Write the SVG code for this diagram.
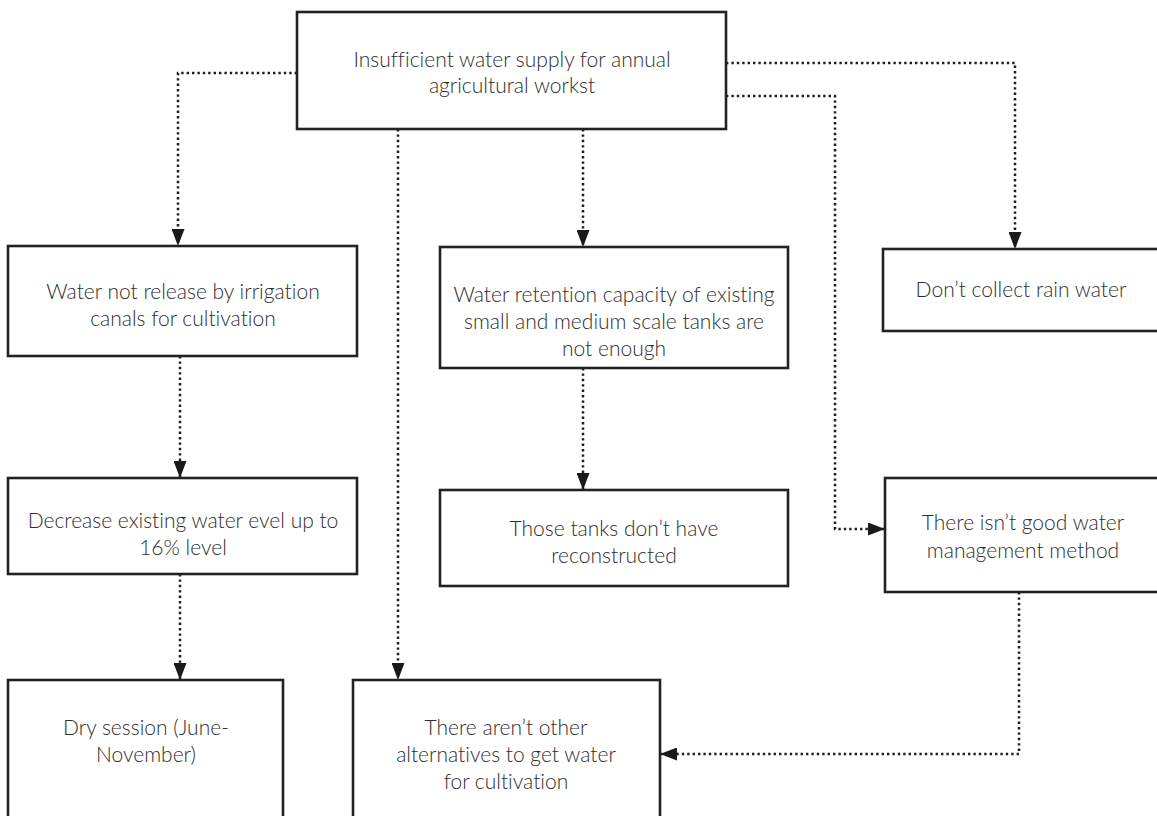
<svg xmlns="http://www.w3.org/2000/svg" width="1157" height="816" viewBox="0 0 1157 816">
<style>
.box{fill:#fff;stroke:#222;stroke-width:2.6}
.t{font-family:Lato,"Open Sans","Liberation Sans",sans-serif;font-weight:300;font-size:21px;fill:#2e2e2e;text-anchor:middle;font-variant-ligatures:no-common-ligatures}
.c{fill:none;stroke:#1e1e1e;stroke-width:2.5;stroke-dasharray:2.4 3;marker-end:url(#ah)}
</style>
<defs>
<marker id="ah" markerUnits="userSpaceOnUse" viewBox="0 0 17 13" markerWidth="17" markerHeight="13" refX="17" refY="6.5" orient="auto">
<path d="M0,0 L17,6.5 L0,13 z" fill="#1a1a1a"/>
</marker>
</defs>
<rect width="1157" height="816" fill="#fff"/>
<g id="connectors">
<path class="c" d="M297,73 H178 V246"/>
<path class="c" d="M180,356 V478"/>
<path class="c" d="M180,574 V680"/>
<path class="c" d="M398,129 V680"/>
<path class="c" d="M583,129 V247"/>
<path class="c" d="M583,368 V490"/>
<path class="c" d="M726,63 H1015 V249"/>
<path class="c" d="M726,96 H835 V529 H885"/>
<path class="c" d="M1019,592 V754 H660"/>
</g>
<g id="n-top">
<rect class="box" x="297" y="12" width="429" height="117"/>
<text class="t" x="512" y="67">Insufficient water supply for annual</text>
<text class="t" x="512" y="93">agricultural workst</text>
</g>
<g id="n-canals">
<rect class="box" x="8" y="246" width="349" height="110"/>
<text class="t" x="183" y="299">Water not release by irrigation</text>
<text class="t" x="183" y="326">canals for cultivation</text>
</g>
<g id="n-retention">
<rect class="box" x="440" y="247" width="348" height="121"/>
<text class="t" x="614" y="302">Water retention capacity of existing</text>
<text class="t" x="614" y="329">small and medium scale tanks are</text>
<text class="t" x="614" y="356">not enough</text>
</g>
<g id="n-rain">
<rect class="box" x="883" y="249" width="280" height="82"/>
<text class="t" x="1021" y="297">Don’t collect rain water</text>
</g>
<g id="n-decrease">
<rect class="box" x="8" y="478" width="349" height="96"/>
<text class="t" x="183" y="528">Decrease existing water evel up to</text>
<text class="t" x="183" y="555">16% level</text>
</g>
<g id="n-tanks">
<rect class="box" x="440" y="490" width="348" height="96"/>
<text class="t" x="614" y="536">Those tanks don’t have</text>
<text class="t" x="614" y="563">reconstructed</text>
</g>
<g id="n-management">
<rect class="box" x="885" y="478" width="278" height="114"/>
<text class="t" x="1023" y="530">There isn’t good water</text>
<text class="t" x="1023" y="558">management method</text>
</g>
<g id="n-dry">
<rect class="box" x="8" y="680" width="275" height="150"/>
<text class="t" x="146" y="735">Dry session (June-</text>
<text class="t" x="146" y="762">November)</text>
</g>
<g id="n-alternatives">
<rect class="box" x="353" y="680" width="307" height="150"/>
<text class="t" x="506" y="735">There aren’t other</text>
<text class="t" x="506" y="762">alternatives to get water</text>
<text class="t" x="506" y="789">for cultivation</text>
</g>
</svg>
